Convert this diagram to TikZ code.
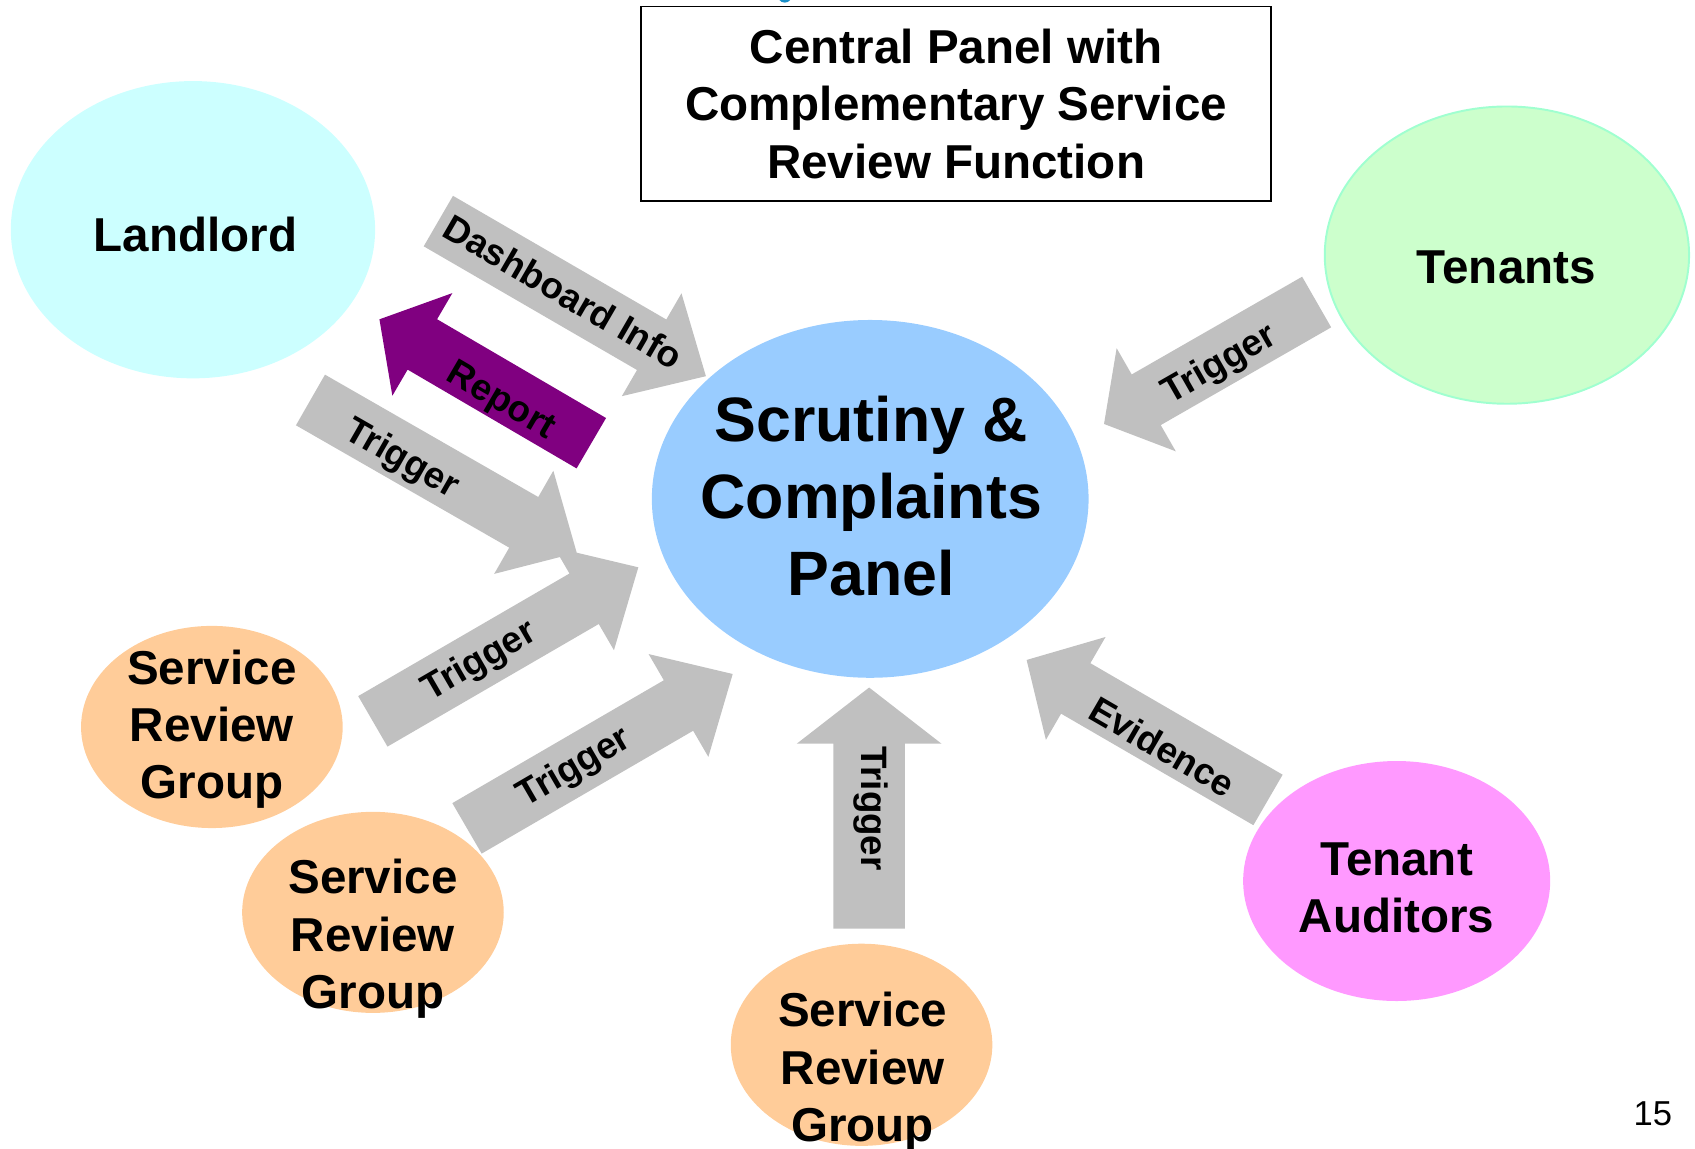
\documentclass[tikz,border=0pt]{standalone}
\usepackage{fontspec}
\setmainfont{Liberation Sans}
\usetikzlibrary{shapes.geometric,calc}
\definecolor{llcyan}{HTML}{CCFFFF}
\definecolor{tgreen}{HTML}{CCFFCC}
\definecolor{tgreenb}{HTML}{A0FFD0}
\definecolor{pblue}{HTML}{99CCFF}
\definecolor{sorange}{HTML}{FFCC99}
\definecolor{apink}{HTML}{FF99FF}
\definecolor{agray}{HTML}{C0C0C0}
\definecolor{rpurple}{HTML}{800080}
\definecolor{ttlblue}{HTML}{1A8FC8}
% #1 tail, #2 tip, #3 shaft half width, #4 head half width, #5 head length, #6 colour
\newcommand\blockarr[6]{%
  \coordinate (#1b) at ($(#2)!#5!(#1)$);
  \fill[#6] ($(#1)!#3!90:(#2)$) -- ($(#1b)!#3!90:(#2)$) -- ($(#1b)!#4!90:(#2)$) -- (#2)
    -- ($(#1b)!#4!-90:(#2)$) -- ($(#1b)!#3!-90:(#2)$) -- ($(#1)!#3!-90:(#2)$) -- cycle;}
\begin{document}
\begin{tikzpicture}[x=1pt,y=-1pt,
  blob/.style={ellipse, inner sep=0pt, draw=none},
  lbl/.style={font=\fontsize{34}{40}\selectfont\bfseries, inner sep=0pt},
  big/.style={font=\fontsize{44}{53}\selectfont\bfseries, align=center, inner sep=0pt},
  huge/.style={font=\fontsize{58}{71}\selectfont\bfseries, align=center, inner sep=0pt}]
\useasboundingbox (0,0) rectangle (1568,1062);
% title fragment
\fill[ttlblue] (721,0) .. controls (723,3.2) and (729,3.2) .. (731,0) -- cycle;
% box
\node[draw=black, line width=1.6pt, minimum width=583pt, minimum height=180pt, inner sep=0pt] (box) at (884.5,96) {};
\node[big] (boxt) at (884.5,96) {Central Panel with\\Complementary Service\\Review Function};
% ellipses
\node[blob, fill=llcyan, minimum width=337pt, minimum height=275pt] (landlord) at (178.5,212.5) {};
\node[blob, fill=tgreen, draw=tgreenb, line width=1.8pt, minimum width=337pt, minimum height=275pt] (tenants) at (1394,236) {};
\node[blob, fill=pblue, minimum width=404pt, minimum height=331pt] (panel) at (805,461.5) {};
\node[blob, fill=sorange, minimum width=242pt, minimum height=187pt] (srg1) at (196,672.5) {};
\node[blob, fill=sorange, minimum width=242pt, minimum height=186pt] (srg2) at (345,844) {};
\node[blob, fill=sorange, minimum width=242pt, minimum height=187pt] (srg3) at (797,966.5) {};
\node[blob, fill=apink, minimum width=284pt, minimum height=222pt] (aud) at (1292,815) {};
% texts
\node[big] (landlordt) at (181,217) {Landlord};
\node[big] (tenantst) at (1393.5,247.5) {Tenants};
\node[huge] (panelt) at (806,459) {Scrutiny \&\\Complaints\\Panel};
\node[big] (srg1t) at (196,674.5) {Service\\Review\\Group};
\node[big] (srg2t) at (345,868.5) {Service\\Review\\Group};
\node[big] (srg3t) at (798,991.5) {Service\\Review\\Group};
\node[big] (audt) at (1292,821.5) {Tenant\\Auditors};
\node[font=\fontsize{32}{38}\selectfont, inner sep=0pt] (pageno) at (1529,1030) {15};
% arrow end points
\coordinate (a1t) at (405.5,204.5);  \coordinate (a1p) at (653,348);
\coordinate (a2t) at (547,410);      \coordinate (a2p) at (351,295.4);
\coordinate (a3t) at (287.2,370);    \coordinate (a3p) at (533.5,511.3);
\coordinate (a4t) at (344.9,667.3);  \coordinate (a4p) at (590.5,524.8);
\coordinate (a5t) at (432,766.3);    \coordinate (a5p) at (677.8,623.5);
\coordinate (a6t) at (804,859);      \coordinate (a6p) at (804,636);
\coordinate (a7t) at (1218,279.4);   \coordinate (a7p) at (1021.3,392.2);
\coordinate (a8t) at (1173,740);     \coordinate (a8p) at (949.7,610.5);
% arrows
\blockarr{a1t}{a1p}{27pt}{55pt}{58pt}{agray}
\blockarr{a2t}{a2p}{27pt}{55pt}{46pt}{rpurple}
\blockarr{a3t}{a3p}{27pt}{55pt}{56.5pt}{agray}
\blockarr{a4t}{a4p}{27pt}{55pt}{58pt}{agray}
\blockarr{a5t}{a5p}{27pt}{55pt}{58pt}{agray}
\blockarr{a6t}{a6p}{33pt}{67pt}{52pt}{agray}
\blockarr{a7t}{a7p}{27pt}{55pt}{45pt}{agray}
\blockarr{a8t}{a8p}{27pt}{55pt}{52.5pt}{agray}
% labels
\node[lbl, rotate=-30.1] (l1) at (521.1,269.8) {Dashboard Info};
\node[lbl, rotate=-30.3] (l2) at (463,372) {Report};
\node[lbl, rotate=-29.8] (l3) at (371.6,425.5) {Trigger};
\node[lbl, rotate=30.1] (l4) at (444,612.1) {Trigger};
\node[lbl, rotate=30.2] (l5) at (531.5,710.8) {Trigger};
\node[lbl, rotate=-90] (l6) at (805.6,747.8) {Trigger};
\node[lbl, rotate=29.8] (l7) at (1128.6,337.7) {Trigger};
\node[lbl, rotate=-30.1] (l8) at (1075.3,690.7) {Evidence};
\end{tikzpicture}
\end{document}
